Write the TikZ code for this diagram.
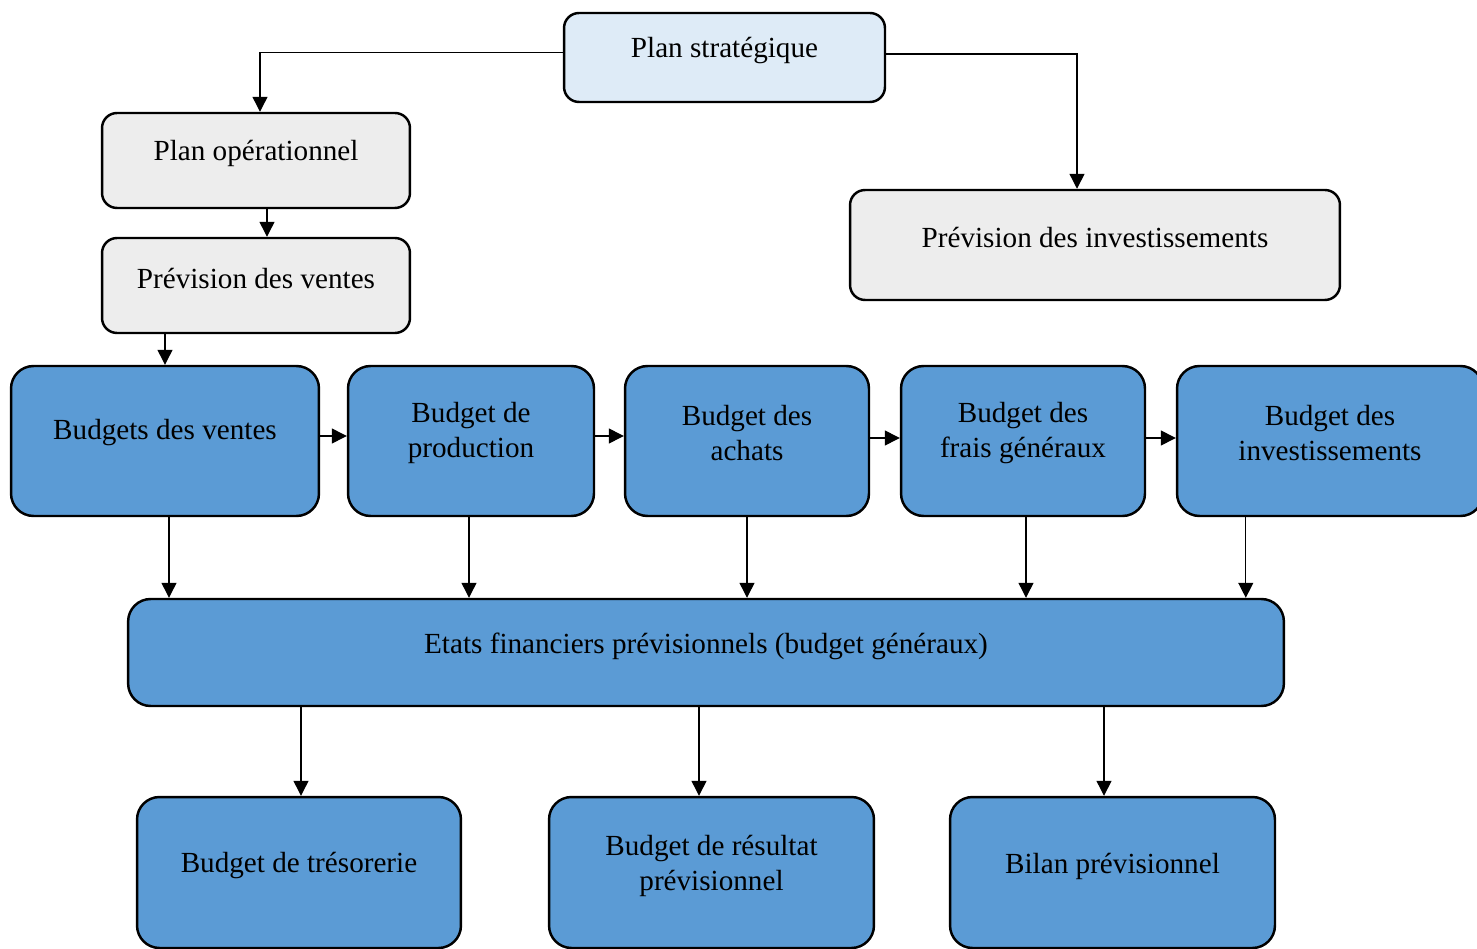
\documentclass[tikz,border=0pt]{standalone}
\usepackage{fontspec}
\setmainfont{Liberation Serif}
\usetikzlibrary{arrows.meta}

\definecolor{bleuclair}{HTML}{DEEBF7}
\definecolor{gris}{HTML}{EDEDED}
\definecolor{bleu}{HTML}{5B9BD5}

\tikzset{
  bx/.style={draw, line width=1.4pt, rounded corners=0.3cm, inner sep=0pt},
  bxbleu/.style={bx, fill=bleu, rounded corners=0.45cm},
  txt/.style={align=center, font=\fontsize{16.6}{20.4}\selectfont, yshift=#1},
  fl/.style={-{Triangle[width=8.5pt,length=8.5pt]}, line width=0.75pt}
}

\begin{document}
\begin{tikzpicture}[x=0.02cm, y=-0.02cm]
\useasboundingbox (0,0) rectangle (1477,949);

% haut
\node[bx, fill=bleuclair, minimum width=6.42cm, minimum height=1.78cm,
  label={[txt=0.13cm]center:Plan stratégique}] (strat) at (724.5,57.5) {};
\node[bx, fill=gris, minimum width=6.16cm, minimum height=1.9cm,
  label={[txt=0.15cm]center:Plan opérationnel}] (op) at (256,160.5) {};
\node[bx, fill=gris, minimum width=6.16cm, minimum height=1.9cm,
  label={[txt=0.13cm]center:Prévision des ventes}] (pv) at (256,285.5) {};
\node[bx, fill=gris, minimum width=9.8cm, minimum height=2.2cm,
  label={[txt=0.14cm]center:Prévision des investissements}] (pinv) at (1095,245) {};

% budgets
\node[bxbleu, minimum width=6.16cm, minimum height=3cm,
  label={[txt=0.16cm]center:Budgets des ventes}] (ventes) at (165,441) {};
\node[bxbleu, minimum width=4.92cm, minimum height=3cm,
  label={[txt=0.16cm]center:Budget de\\production}] (prod) at (471,441) {};
\node[bxbleu, minimum width=4.88cm, minimum height=3cm,
  label={[txt=0.16cm]center:Budget des\\achats}] (achats) at (747,441) {};
\node[bxbleu, minimum width=4.88cm, minimum height=3cm,
  label={[txt=0.16cm]center:Budget des\\frais généraux}] (frais) at (1023,441) {};
\node[bxbleu, minimum width=6.12cm, minimum height=3cm,
  label={[txt=0.16cm]center:Budget des\\investissements}] (binv) at (1330,441) {};

\node[bxbleu, minimum width=23.12cm, minimum height=2.14cm,
  label={[txt=0.13cm]center:Etats financiers prévisionnels (budget généraux)}] (etats) at (706,652.5) {};

% bas
\node[bxbleu, minimum width=6.48cm, minimum height=3.02cm,
  label={[txt=0.13cm]center:Budget de trésorerie}] (tres) at (299,872.5) {};
\node[bxbleu, minimum width=6.5cm, minimum height=3.02cm,
  label={[txt=0.13cm]center:Budget de résultat\\prévisionnel}] (res) at (711.5,872.5) {};
\node[bxbleu, minimum width=6.5cm, minimum height=3.02cm,
  label={[txt=0.13cm]center:Bilan prévisionnel}] (bilan) at (1112.5,872.5) {};

% fleches
\draw[fl] ([yshift=0.1cm]strat.west) -| ([xshift=0.08cm]op.north);
\draw[fl] ([yshift=0.07cm]strat.east) -| ([xshift=-0.36cm]pinv.north);
\draw[fl] ([xshift=0.22cm]op.south) -- ([xshift=0.22cm]pv.north);
\draw[fl] (ventes.north |- pv.south) -- (ventes.north);

\draw[fl] ([yshift=0.1cm]ventes.east) -- ([yshift=0.1cm]prod.west);
\draw[fl] ([yshift=0.1cm]prod.east) -- ([yshift=0.1cm]achats.west);
\draw[fl] ([yshift=0.06cm]achats.east) -- ([yshift=0.06cm]frais.west);
\draw[fl] ([yshift=0.06cm]frais.east) -- ([yshift=0.06cm]binv.west);

\draw[fl] ([xshift=0.08cm]ventes.south) -- ([xshift=0.08cm]ventes.south |- etats.north);
\draw[fl] ([xshift=-0.04cm]prod.south) -- ([xshift=-0.04cm]prod.south |- etats.north);
\draw[fl] (achats.south) -- (achats.south |- etats.north);
\draw[fl] ([xshift=0.06cm]frais.south) -- ([xshift=0.06cm]frais.south |- etats.north);
\draw[fl] ([xshift=1.4cm]binv.south west) -- ([xshift=1.4cm]binv.south west |- etats.north);

\draw[fl] ([xshift=0.04cm]tres.north |- etats.south) -- ([xshift=0.04cm]tres.north);
\draw[fl] ([xshift=-0.25cm]res.north |- etats.south) -- ([xshift=-0.25cm]res.north);
\draw[fl] ([xshift=-0.17cm]bilan.north |- etats.south) -- ([xshift=-0.17cm]bilan.north);
\end{tikzpicture}
\end{document}
